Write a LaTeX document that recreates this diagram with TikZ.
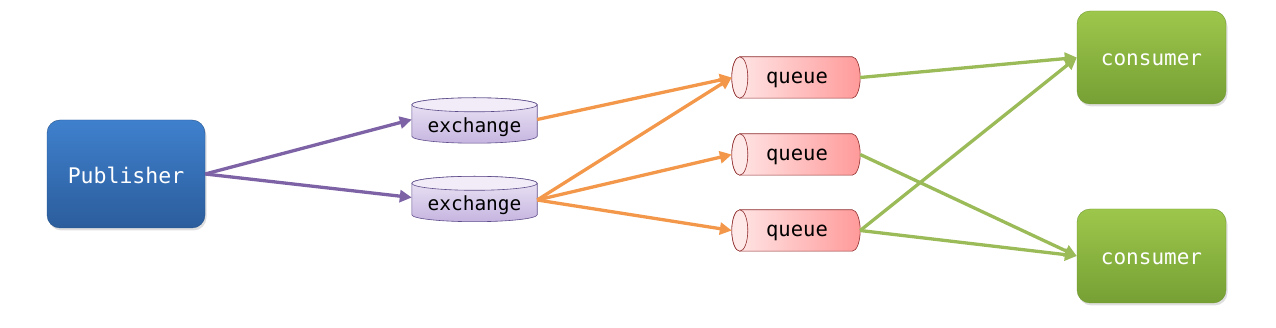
\documentclass[tikz,border=0pt]{standalone}
\usepackage{fontspec}
\newfontfamily\monof{DejaVu Sans Mono}
\usetikzlibrary{calc,arrows.meta,shadows}
\definecolor{pubtop}{HTML}{3F80CD}
\definecolor{pubbot}{HTML}{2B5D9C}
\definecolor{contop}{HTML}{9DC74B}
\definecolor{conbot}{HTML}{76A034}
\definecolor{exline}{HTML}{5E4C8A}
\definecolor{extop}{HTML}{EDE7F6}
\definecolor{exbot}{HTML}{C6B5E0}
\definecolor{qline}{HTML}{8E2B2B}
\definecolor{qleft}{HTML}{FFE8E8}
\definecolor{qright}{HTML}{FF9A9A}
\definecolor{arrpurple}{HTML}{7D62A6}
\definecolor{arrorange}{HTML}{F3984A}
\definecolor{arrgreen}{HTML}{9BBB59}
\tikzset{
  boxnode/.style={rectangle, rounded corners=13pt, inner sep=0pt,
    drop shadow={opacity=0.25, shadow xshift=1.5pt, shadow yshift=-2.5pt}},
  pubnode/.style={boxnode, top color=pubtop, bottom color=pubbot, draw=pubbot!90!black, line width=0.4pt},
  connode/.style={boxnode, top color=contop, bottom color=conbot, draw=conbot!95!black, line width=0.4pt},
  wlbl/.style={text=white, font=\monof\fontsize{21}{24}\selectfont},
  exnode/.style={rectangle, inner sep=0pt, minimum width=125pt, minimum height=45pt},
  qnode/.style={rectangle, inner sep=0pt, minimum width=128pt, minimum height=41pt},
  exbody/.style={draw=exline, line width=0.6pt, top color=extop, bottom color=exbot},
  excap/.style={draw=exline, line width=0.6pt, fill=extop!80!white},
  qbody/.style={draw=qline, line width=0.6pt, left color=qleft, right color=qright},
  qcap/.style={draw=qline, line width=0.6pt, fill=qleft},
  lbl/.style={font=\monof\fontsize{19.5}{22}\selectfont, text=black},
  qlbl/.style={lbl, font=\monof\fontsize{20.5}{22}\selectfont},
  conn/.style={line width=3.3pt, -{Triangle[length=12pt,width=12pt]}},
  pconn/.style={conn, draw=arrpurple},
  oconn/.style={conn, draw=arrorange},
  gconn/.style={conn, draw=arrgreen},
}
\newcommand\excyl[1]{%
  \path[exbody] let \p1=(#1.north west), \p2=(#1.south east), \n1={(\x2-\x1)/2} in
    (\x1,\y1-7pt) -- (\x1,\y2+7pt)
    arc[start angle=180,end angle=360,x radius=\n1,y radius=7pt]
    -- (\x2,\y1-7pt)
    arc[start angle=0,end angle=180,x radius=\n1,y radius=7pt] -- cycle;
  \path[excap] let \p1=(#1.north west), \p2=(#1.south east), \n1={(\x2-\x1)/2} in
    (\x1+\n1,\y1-7pt) ellipse[x radius=\n1,y radius=7pt];
}
\newcommand\qcyl[1]{%
  \path[qbody] let \p1=(#1.north west), \p2=(#1.south east), \n1={(\y1-\y2)/2} in
    (\x1+8pt,\y1) -- (\x2-8pt,\y1)
    arc[start angle=90,end angle=-90,x radius=8pt,y radius=\n1]
    -- (\x1+8pt,\y2)
    arc[start angle=270,end angle=90,x radius=8pt,y radius=\n1] -- cycle;
  \path[qcap] let \p1=(#1.north west), \p2=(#1.south east), \n1={(\y1-\y2)/2} in
    (\x1+8pt,\y2+\n1) ellipse[x radius=8pt,y radius=\n1];
}
\begin{document}
\begin{tikzpicture}[x=1pt,y=1pt]
\useasboundingbox (0,0) rectangle (1276,-328);
% nodes
\node[pubnode, minimum width=158pt, minimum height=108pt] (pub) at (126,-174) {};
\node[wlbl, font=\monof\fontsize{21.5}{24}\selectfont] (publbl) at ([yshift=-1.5pt]pub.center) {Publisher};
\node[connode, minimum width=149pt, minimum height=93pt] (c1) at (1151.5,-57.5) {};
\node[wlbl] (c1lbl) at ([yshift=-2.5pt]c1.center) {consumer};
\node[connode, minimum width=149pt, minimum height=94pt] (c2) at (1151.5,-256) {};
\node[wlbl] (c2lbl) at ([yshift=-2.5pt]c2.center) {consumer};
\node[exnode] (ex1) at (474.5,-120.5) {};
\node[exnode] (ex2) at (474.5,-199) {};
\node[qnode] (q1) at (796,-77.5) {};
\node[qnode] (q2) at (796,-154.5) {};
\node[qnode] (q3) at (796,-230.5) {};
\excyl{ex1}
\excyl{ex2}
\qcyl{q1}
\qcyl{q2}
\qcyl{q3}
\node[lbl] (ex1lbl) at ([yshift=-6.5pt]ex1.center) {exchange};
\node[lbl] (ex2lbl) at ([yshift=-6.5pt]ex2.center) {exchange};
\node[qlbl] (q1lbl) at ([xshift=1pt,yshift=-2.5pt]q1.center) {queue};
\node[qlbl] (q2lbl) at ([xshift=1pt,yshift=-2.5pt]q2.center) {queue};
\node[qlbl] (q3lbl) at ([xshift=1pt,yshift=-2.5pt]q3.center) {queue};
% connectors
\draw[pconn] (pub.east) -- ([yshift=1pt]ex1.west);
\draw[pconn] (pub.east) -- ([yshift=1.5pt]ex2.west);
\draw[oconn] ([yshift=1pt]ex1.east) -- (q1.west);
\draw[oconn] ([yshift=-1pt]ex2.east) -- (q1.west);
\draw[oconn] ([yshift=-1pt]ex2.east) -- (q2.west);
\draw[oconn] ([yshift=-1pt]ex2.east) -- (q3.west);
\draw[gconn] (q1.east) -- (c1.west);
\draw[gconn] (q2.east) -- (c2.west);
\draw[gconn] (q3.east) -- (c1.west);
\draw[gconn] (q3.east) -- (c2.west);
\end{tikzpicture}
\end{document}
